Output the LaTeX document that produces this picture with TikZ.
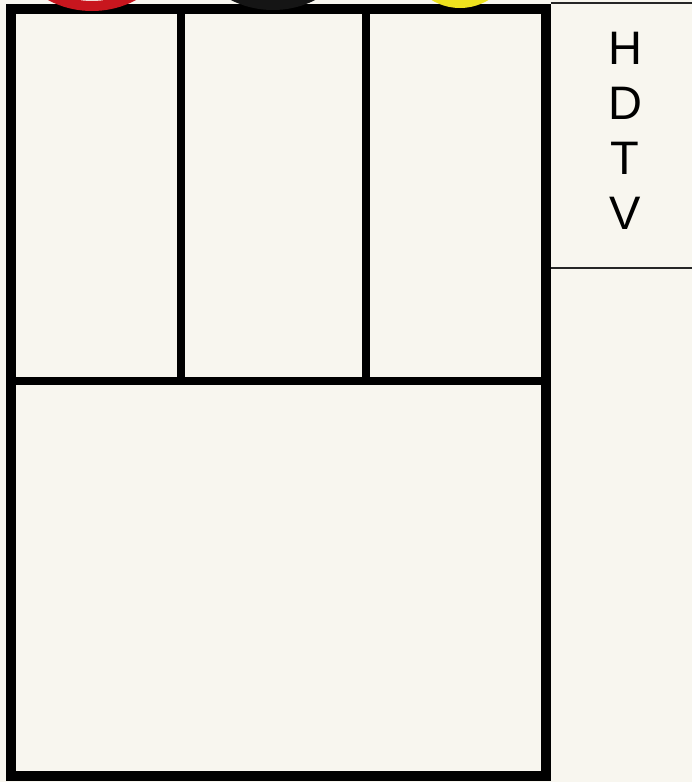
\documentclass[tikz,border=0pt]{standalone}
\usepackage{fontspec}
\setmainfont{Liberation Sans}
\definecolor{paper}{HTML}{F8F6EF}
\definecolor{ringred}{HTML}{C8161E}
\definecolor{ringblack}{HTML}{151515}
\definecolor{ringyellow}{HTML}{EEE21E}
\tikzset{
  frame/.style={line width=9.5pt, draw=black, line cap=rect},
  divider/.style={line width=8pt, draw=black},
  thinline/.style={line width=1.6pt, draw=black!85},
  ring/.style={line width=10pt},
}
\begin{document}
\begin{tikzpicture}[x=1pt,y=-1pt]
\useasboundingbox (0,0) rectangle (692,782);
\fill[paper] (0,0) rectangle (692,782);
% main frame
\draw[frame] (11,9) rectangle (546,776);
% vertical dividers of the top row
\draw[divider] (181,9) -- (181,381);
\draw[divider] (366,9) -- (366,381);
% horizontal divider
\draw[divider] (11,381) -- (546,381);
% side panel lines
\draw[thinline] (551,3) -- (692,3);
\draw[thinline] (551,268) -- (692,268);
% rings peeking over the top edge
\begin{scope}
\clip (0,0) rectangle (692,782);
\draw[ring, ringred] (92,-83) circle (89);
\draw[ring, ringblack] (273,-84) circle (89);
\draw[ring, ringyellow] (460,-46.5) circle (49.5);
\end{scope}
% HDTV label
\node[align=center, font=\fontsize{47}{55}\selectfont, inner sep=0pt] (hdtv) at (625,131) {H\\D\\T\\V};
\end{tikzpicture}
\end{document}
